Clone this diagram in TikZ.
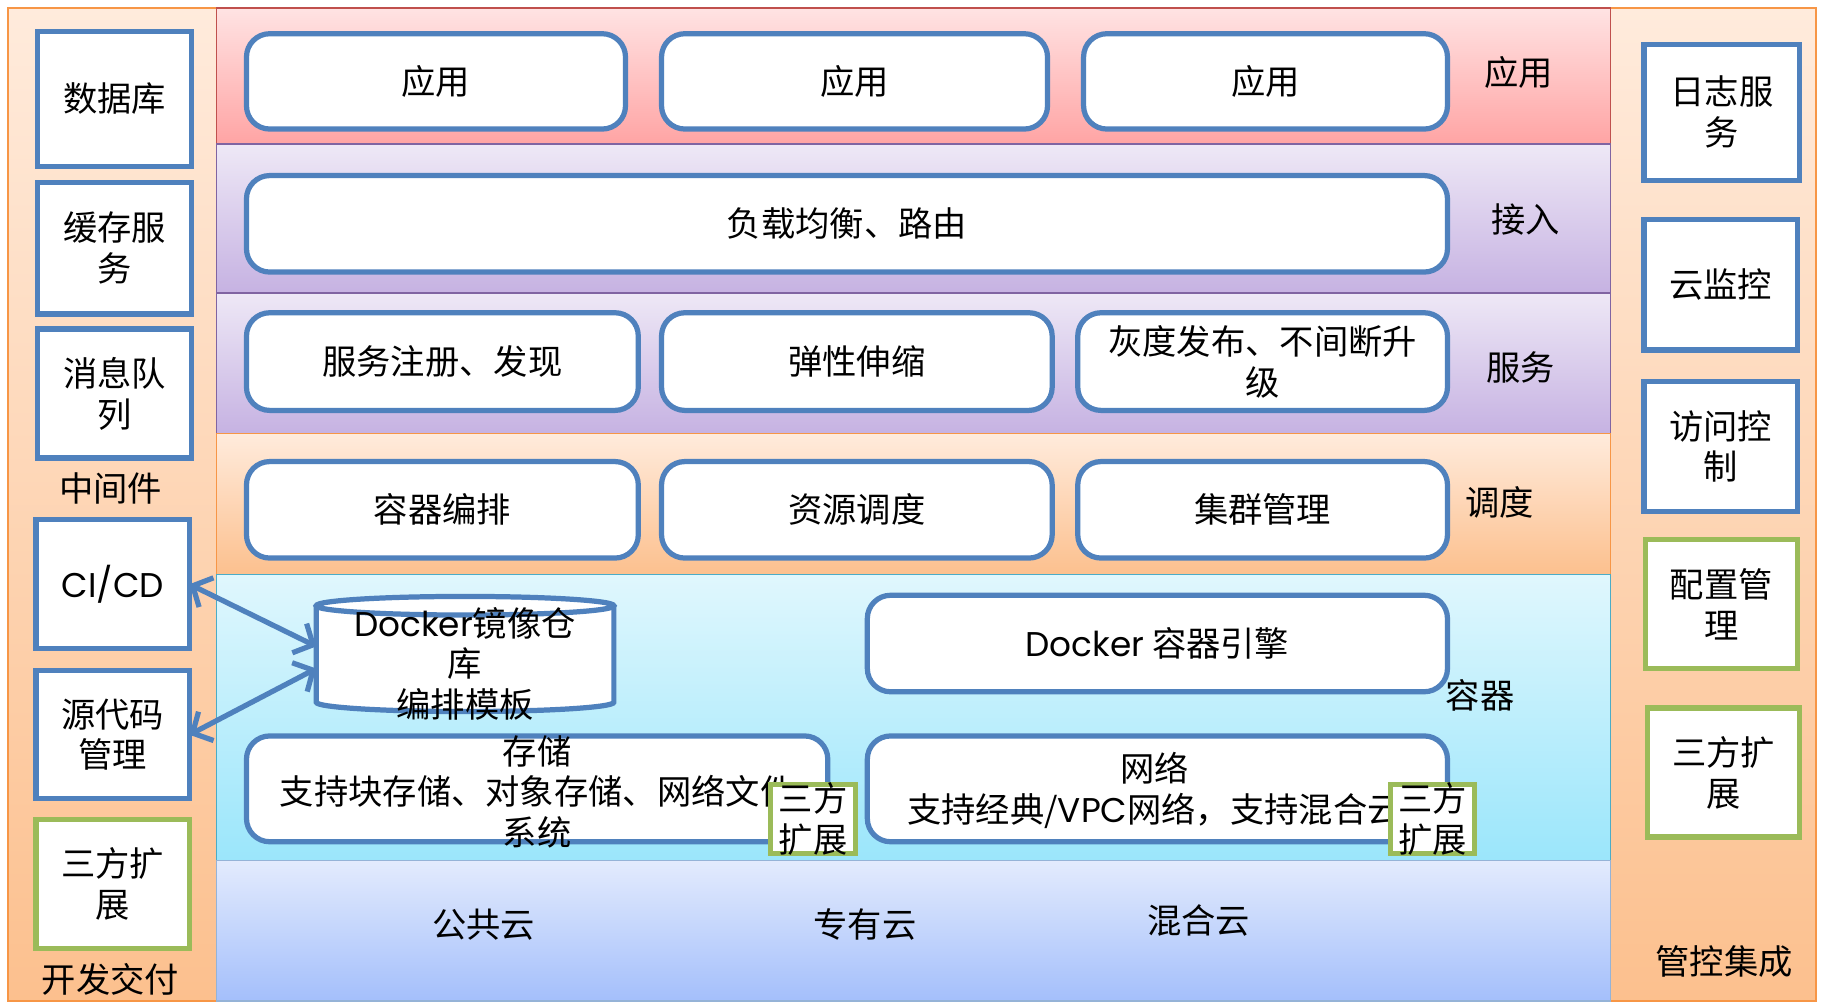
\documentclass[tikz,border=0pt]{standalone}
\usepackage{fontspec}
\setmainfont{Noto Sans CJK SC}
\newfontfamily\lat{Poppins}
\usetikzlibrary{arrows.meta,calc}
\definecolor{bblue}{HTML}{4F81BD}
\definecolor{bgreen}{HTML}{9BBB59}
\definecolor{orgborder}{HTML}{F79646}
\definecolor{orgtop}{HTML}{FFEBDC}
\definecolor{orgbot}{HTML}{FCC08E}
\definecolor{apptop}{HTML}{FFE3E3}
\definecolor{appbot}{HTML}{FFA4A4}
\definecolor{appborder}{HTML}{C0504D}
\definecolor{purtop}{HTML}{EEE8F6}
\definecolor{purbot}{HTML}{C6B2E2}
\definecolor{purborder}{HTML}{8064A2}
\definecolor{cyantop}{HTML}{E0F7FD}
\definecolor{cyanbot}{HTML}{9BE6FB}
\definecolor{cyanborder}{HTML}{4BACC6}
\definecolor{cloudtop}{HTML}{E3EBFD}
\definecolor{cloudbot}{HTML}{A4BFFB}
\definecolor{cloudborder}{HTML}{95B3D7}
\begin{document}
\begin{tikzpicture}[x=1pt,y=-1pt,
  every node/.style={font=\fontsize{29.5}{35}\selectfont, align=center, inner sep=0pt, outer sep=0pt},
  layerbg/.style n args={3}{draw=#1, line width=1.2pt, top color=#2, bottom color=#3, anchor=north west},
  sqbox/.style={draw=bblue, line width=4.5pt, fill=white, anchor=north west},
  gbox/.style={draw=bgreen, line width=4.5pt, fill=white, anchor=north west},
  rbox/.style={draw=bblue, line width=4.5pt, fill=white, rounded corners=20pt, anchor=north west},
  arr/.style={draw=bblue, line width=4.5pt, {Straight Barb[length=13pt,width=28pt]}-{Straight Barb[length=13pt,width=28pt]}}
]
\useasboundingbox (0,0) rectangle (1568,861);
% side panels
\node[layerbg={orgborder}{orgtop}{orgbot}, minimum width=179pt, minimum height=854pt] (leftp) at (7,7) {};
\node[layerbg={orgborder}{orgtop}{orgbot}, minimum width=177pt, minimum height=854pt] (rightp) at (1385,7) {};
% layers
\node[layerbg={appborder}{apptop}{appbot}, minimum width=1199pt, minimum height=117pt] (lapp) at (186,7) {};
\node[layerbg={purborder}{purtop}{purbot}, minimum width=1199pt, minimum height=128pt] (lacc) at (186,124) {};
\node[layerbg={purborder}{purtop}{purbot}, minimum width=1199pt, minimum height=121pt] (lsvc) at (186,252) {};
\node[layerbg={orgborder}{orgtop}{orgbot}, minimum width=1199pt, minimum height=121pt] (lsch) at (186,373) {};
\node[layerbg={cyanborder}{cyantop}{cyanbot}, minimum width=1199pt, minimum height=246pt] (lcon) at (186,494) {};
\node[layerbg={cloudborder}{cloudtop}{cloudbot}, minimum width=1199pt, minimum height=121pt] (lcld) at (186,740) {};

% application
\node[rbox, minimum width=326pt, minimum height=82pt] (app1) at (212,29) {应用};
\node[rbox, minimum width=332pt, minimum height=82pt] (app2) at (569,29) {应用};
\node[rbox, minimum width=313pt, minimum height=82pt] (app3) at (932,29) {应用};
\node (tapp) at (1306,62) {应用};
% access
\node[rbox, minimum width=1033pt, minimum height=83pt] (lb) at (212,151) {负载均衡、路由};
\node (tacc) at (1312,189) {接入};
% service
\node[rbox, minimum width=337pt, minimum height=84pt] (reg) at (212,269) {服务注册、发现};
\node[rbox, minimum width=336pt, minimum height=84pt] (scale) at (569,269) {弹性伸缩};
\node[rbox, minimum width=318pt, minimum height=84pt] (gray) at (927,269) {灰度发布、不间断升\\级};
\node (tsvc) at (1308,316) {服务};
% scheduling
\node[rbox, minimum width=337pt, minimum height=83pt] (orch) at (212,397) {容器编排};
\node[rbox, minimum width=336pt, minimum height=83pt] (res) at (569,397) {资源调度};
\node[rbox, minimum width=318pt, minimum height=83pt] (clu) at (927,397) {集群管理};
\node (tsch) at (1290,432) {调度};
% container
\path[fill=white] (272,521) -- (272,604) arc[start angle=180,end angle=360,x radius=128pt,y radius=8pt] -- (528,521) arc[start angle=0,end angle=180,x radius=128pt,y radius=8pt] -- cycle;
\draw[bblue, line width=4.5pt] (272,521) -- (272,604) arc[start angle=180,end angle=360,x radius=128pt,y radius=8pt] -- (528,521);
\draw[bblue, line width=4.5pt] (400,521) ellipse [x radius=128pt, y radius=8pt];
\node[minimum width=256pt] (repo) at (400,571) {{\lat Docker}镜像仓\\库\\编排模板};
\node[rbox, minimum width=499pt, minimum height=83pt] (engine) at (746,512) {{\lat Docker} 容器引擎};
\node (tcon) at (1273,598) {容器};
\node[rbox, minimum width=500pt, minimum height=91pt] (stor) at (212,633) {};
\node (storT) at (462,681) {存储\\支持块存储、对象存储、网络文件\\系统};
\node[rbox, minimum width=499pt, minimum height=91pt] (net) at (746,633) {};
\node (netT) at (993,680) {网络\\支持经典/{\lat VPC}网络，支持混合云};
\node[gbox, minimum width=73pt, minimum height=59pt] (ext3) at (663,675) {};
\node at (ext3.center) {三方\\扩展};
\node[gbox, minimum width=72pt, minimum height=59pt] (ext4) at (1196,675) {};
\node at (ext4.center) {三方\\扩展};
% cloud
\node (pub) at (416,795) {公共云};
\node (pri) at (744,795) {专有云};
\node (hyb) at (1031,792) {混合云};
% left
\node[sqbox, minimum width=133pt, minimum height=116pt] (db) at (32,27) {数据库};
\node[sqbox, minimum width=133pt, minimum height=113pt] (cache) at (32,157) {缓存服\\务};
\node[sqbox, minimum width=133pt, minimum height=111pt] (mq) at (32,283) {消息队\\列};
\node (tmid) at (95,420) {中间件};
\node[sqbox, minimum width=132pt, minimum height=111pt] (cicd) at (31,447) {{\lat CI/CD}};
\node[sqbox, minimum width=132pt, minimum height=110pt] (src) at (31,577) {源代码\\管理};
\node[gbox, minimum width=132pt, minimum height=111pt] (ext1) at (31,705) {三方扩\\展};
\node (tdev) at (95,842) {开发交付};
% right
\node[sqbox, minimum width=134pt, minimum height=117pt] (log) at (1414,38) {日志服\\务};
\node[sqbox, minimum width=132pt, minimum height=112pt] (mon) at (1414,189) {云监控};
\node[sqbox, minimum width=132pt, minimum height=112pt] (acl) at (1414,328) {访问控\\制};
\node[gbox, minimum width=131pt, minimum height=111pt] (cfg) at (1415,464) {配置管\\理};
\node[gbox, minimum width=131pt, minimum height=111pt] (ext2) at (1417,609) {三方扩\\展};
\node (tops) at (1483,827) {管控集成};
% arrows
\draw[arr] (cicd.east) -- ($(repo.west)+(0,-15)$);
\draw[arr] ($(repo.west)+(0,4)$) -- (src.east);
\end{tikzpicture}
\end{document}
